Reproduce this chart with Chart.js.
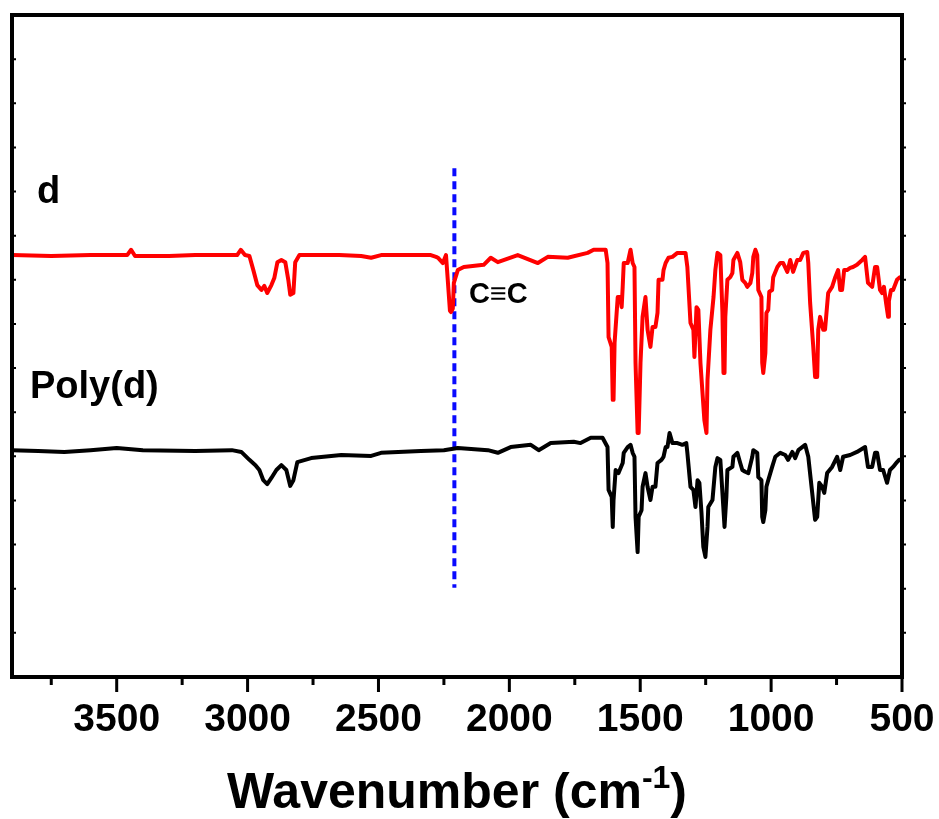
<!DOCTYPE html>
<html>
<head>
<meta charset="utf-8">
<script src="https://cdn.jsdelivr.net/npm/chart.js@4.4.1/dist/chart.umd.min.js"></script>
<style>
  html, body { margin: 0; padding: 0; background: #fff; }
  canvas { display: block; }
</style>
</head>
<body>
<canvas id="ftirChart" width="939" height="819"></canvas>
<script>
// FTIR spectra: monomer d (red) and Poly(d) (black), offset transmittance units
const redWavenumbers = [3900, 3750, 3600, 3460, 3445, 3430, 3300, 3200, 3040, 3026, 3010, 2993, 2978, 2963, 2947, 2936, 2925, 2909, 2898, 2886, 2871, 2856, 2844, 2837, 2825, 2818, 2802, 2650, 2566, 2528, 2490, 2300, 2280, 2273, 2254, 2242, 2227, 2223, 2216, 2212, 2197, 2174, 2098, 2071, 2044, 1968, 1891, 1853, 1777, 1701, 1678, 1632, 1625, 1621, 1609, 1605, 1602, 1598, 1586, 1575, 1571, 1567, 1563, 1548, 1537, 1529, 1522, 1518, 1510, 1506, 1499, 1491, 1480, 1472, 1461, 1453, 1442, 1434, 1430, 1415, 1411, 1403, 1392, 1377, 1358, 1327, 1320, 1308, 1297, 1293, 1285, 1278, 1270, 1255, 1247, 1243, 1232, 1220, 1213, 1205, 1194, 1186, 1182, 1178, 1175, 1167, 1156, 1148, 1144, 1129, 1118, 1110, 1099, 1091, 1079, 1072, 1068, 1060, 1053, 1049, 1037, 1034, 1030, 1022, 1018, 1011, 1007, 996, 992, 976, 965, 954, 938, 927, 916, 900, 889, 877, 862, 858, 851, 839, 832, 824, 820, 813, 801, 794, 782, 767, 755, 744, 736, 729, 721, 710, 698, 687, 672, 652, 641, 630, 614, 603, 595, 584, 576, 569, 561, 553, 550, 542, 534, 519, 508, 500];
const redValues = [9.56, 9.54, 9.56, 9.56, 9.68, 9.54, 9.54, 9.56, 9.56, 9.68, 9.56, 9.54, 9.22, 8.88, 8.77, 8.86, 8.70, 8.88, 9.04, 9.40, 9.45, 9.40, 8.98, 8.66, 8.70, 9.40, 9.56, 9.56, 9.54, 9.50, 9.56, 9.56, 9.52, 9.50, 9.38, 9.56, 8.30, 8.27, 8.35, 8.93, 9.22, 9.29, 9.34, 9.50, 9.40, 9.56, 9.38, 9.52, 9.50, 9.61, 9.68, 9.68, 9.38, 7.70, 7.48, 6.28, 6.28, 7.57, 8.61, 8.61, 8.38, 8.84, 9.38, 9.38, 9.68, 9.38, 9.29, 7.12, 5.53, 5.53, 7.12, 8.16, 8.61, 7.87, 7.48, 7.93, 7.93, 8.25, 9.00, 9.00, 9.22, 9.38, 9.50, 9.52, 9.61, 9.61, 9.29, 8.02, 7.87, 7.25, 8.38, 8.32, 7.12, 5.82, 5.53, 6.73, 7.87, 8.61, 9.22, 9.61, 9.56, 8.25, 6.89, 6.89, 8.16, 9.00, 9.06, 9.15, 9.45, 9.61, 9.40, 9.00, 8.93, 8.84, 8.93, 9.15, 9.52, 9.68, 9.56, 8.77, 8.61, 7.12, 6.89, 7.34, 8.25, 8.32, 8.73, 8.77, 9.06, 9.29, 9.38, 9.38, 9.18, 9.45, 9.18, 9.45, 9.45, 9.61, 9.63, 9.38, 8.48, 7.48, 6.80, 6.80, 7.87, 8.16, 7.87, 7.87, 8.70, 8.84, 9.06, 9.22, 8.77, 8.77, 9.22, 9.22, 9.27, 9.29, 9.34, 9.45, 9.52, 8.93, 8.84, 9.29, 9.29, 8.77, 8.70, 8.84, 8.48, 8.16, 8.52, 8.77, 8.77, 9.00, 9.06, 9.06];

const blackWavenumbers = [3900, 3800, 3700, 3600, 3500, 3400, 3200, 3060, 3024, 2993, 2970, 2955, 2940, 2925, 2909, 2890, 2871, 2852, 2837, 2825, 2810, 2757, 2642, 2528, 2490, 2338, 2250, 2197, 2082, 2044, 1995, 1918, 1888, 1842, 1754, 1728, 1689, 1644, 1625, 1621, 1609, 1605, 1602, 1594, 1583, 1567, 1563, 1548, 1537, 1529, 1522, 1518, 1510, 1506, 1495, 1491, 1480, 1472, 1461, 1453, 1442, 1434, 1419, 1411, 1403, 1396, 1388, 1377, 1358, 1339, 1324, 1320, 1308, 1297, 1289, 1281, 1274, 1266, 1259, 1251, 1243, 1240, 1224, 1213, 1205, 1194, 1186, 1178, 1171, 1167, 1148, 1144, 1129, 1118, 1110, 1099, 1087, 1072, 1068, 1053, 1049, 1037, 1034, 1030, 1022, 1018, 1011, 996, 984, 965, 946, 935, 919, 908, 896, 870, 858, 843, 832, 824, 816, 805, 797, 786, 767, 748, 736, 725, 698, 672, 641, 630, 614, 603, 595, 584, 572, 557, 546, 534, 519, 511, 500];
const blackValues = [5.14, 5.12, 5.10, 5.14, 5.19, 5.14, 5.12, 5.14, 5.10, 4.92, 4.80, 4.69, 4.46, 4.37, 4.51, 4.69, 4.80, 4.69, 4.33, 4.46, 4.87, 4.96, 5.03, 5.01, 5.08, 5.12, 5.14, 5.19, 5.14, 5.08, 5.21, 5.26, 5.14, 5.30, 5.33, 5.30, 5.42, 5.42, 5.21, 4.24, 4.08, 3.40, 4.01, 4.69, 4.62, 4.85, 5.08, 5.21, 5.26, 5.08, 4.99, 3.63, 2.83, 3.63, 3.78, 4.31, 4.62, 4.31, 4.01, 4.31, 4.31, 4.85, 4.92, 4.99, 5.21, 5.21, 5.53, 5.30, 5.30, 5.26, 5.30, 5.08, 4.31, 4.24, 3.85, 4.46, 4.40, 3.72, 2.95, 2.72, 3.40, 3.85, 4.01, 4.76, 4.96, 4.92, 4.17, 3.40, 4.08, 4.69, 4.76, 4.99, 5.08, 4.85, 4.69, 4.65, 4.62, 4.99, 5.14, 5.08, 4.53, 4.46, 3.63, 3.51, 3.78, 4.31, 4.46, 4.76, 4.99, 5.08, 5.03, 4.92, 5.10, 4.96, 5.14, 5.26, 4.99, 4.17, 3.56, 3.63, 4.40, 4.31, 4.17, 4.62, 4.76, 4.99, 4.69, 4.99, 5.03, 5.10, 5.21, 4.76, 4.76, 5.08, 5.08, 4.69, 4.69, 4.40, 4.69, 4.76, 4.87, 4.92, 4.92];

// C≡C marker line
const alkyneWavenumber = 2210;
const alkyneRange = [2.02, 11.53];

// axis ticks
const xMajorTicks = [3500, 3000, 2500, 2000, 1500, 1000, 500];
const xMinorTicks = [3750, 3250, 2750, 2250, 1750, 1250, 750];
const yTicks = [1, 2, 3, 4, 5, 6, 7, 8, 9, 10, 11, 12, 13, 14];

const toPoints = (xs, ys) => xs.map((x, i) => ({ x: x, y: ys[i] }));

const fontFamily = '"Liberation Sans", Arial, Helvetica, sans-serif';

const framePlugin = {
    id: 'frame',
    afterDraw(chart) {
        const ctx = chart.ctx;
        const area = chart.chartArea;
        const xs = chart.scales.x;
        const ys = chart.scales.y;
        ctx.save();
        ctx.strokeStyle = '#000';
        ctx.lineWidth = 4;
        ctx.strokeRect(area.left, area.top, area.right - area.left, area.bottom - area.top);

        // x ticks (outward)
        ctx.lineWidth = 3;
        ctx.beginPath();
        xMajorTicks.forEach(v => {
            const px = xs.getPixelForValue(v);
            ctx.moveTo(px, area.bottom);
            ctx.lineTo(px, area.bottom + 15);
        });
        xMinorTicks.forEach(v => {
            const px = xs.getPixelForValue(v);
            ctx.moveTo(px, area.bottom);
            ctx.lineTo(px, area.bottom + 8);
        });
        ctx.stroke();

        // y ticks (small, inside)
        ctx.lineWidth = 2;
        ctx.beginPath();
        yTicks.forEach(v => {
            const py = ys.getPixelForValue(v);
            ctx.moveTo(area.left, py);
            ctx.lineTo(area.left + 4, py);
            ctx.moveTo(area.right, py);
            ctx.lineTo(area.right + 4, py);
        });
        ctx.stroke();

        // sample labels
        ctx.fillStyle = '#000';
        ctx.textBaseline = 'alphabetic';
        ctx.textAlign = 'left';
        ctx.font = 'bold 38px ' + fontFamily;
        ctx.fillText('d', area.left + 25, 203);
        ctx.fillText('Poly(d)', area.left + 18, 398);
        ctx.font = 'bold 29px ' + fontFamily;
        ctx.fillText('C\u2261C', 469, 303);

        // axis title with superscript
        const main = 'Wavenumber (cm';
        const sup = '-1';
        const close = ')';
        ctx.font = 'bold 50px ' + fontFamily;
        const wMain = ctx.measureText(main).width;
        const wClose = ctx.measureText(close).width;
        ctx.font = 'bold 32px ' + fontFamily;
        const wSup = ctx.measureText(sup).width;
        const total = wMain + wSup + wClose;
        let x0 = (area.left + area.right) / 2 - total / 2;
        const base = 808;
        ctx.font = 'bold 50px ' + fontFamily;
        ctx.fillText(main, x0, base);
        ctx.font = 'bold 32px ' + fontFamily;
        ctx.fillText(sup, x0 + wMain, base - 20);
        ctx.font = 'bold 50px ' + fontFamily;
        ctx.fillText(close, x0 + wMain + wSup, base);
        ctx.restore();
    }
};

const ctx = document.getElementById('ftirChart').getContext('2d');

new Chart(ctx, {
    type: 'line',
    data: {
        datasets: [
            {
                label: 'd',
                data: toPoints(redWavenumbers, redValues),
                borderColor: '#ff0000',
                borderWidth: 4,
                pointRadius: 0,
                tension: 0,
                borderJoinStyle: 'round'
            },
            {
                label: 'Poly(d)',
                data: toPoints(blackWavenumbers, blackValues),
                borderColor: '#000000',
                borderWidth: 4,
                pointRadius: 0,
                tension: 0,
                borderJoinStyle: 'round'
            },
            {
                label: 'C≡C',
                data: [
                    { x: alkyneWavenumber, y: alkyneRange[1] },
                    { x: alkyneWavenumber, y: alkyneRange[0] }
                ],
                borderColor: '#0a0aff',
                borderWidth: 4,
                borderDash: [8, 5],
                pointRadius: 0
            }
        ]
    },
    options: {
        responsive: false,
        animation: false,
        layout: {
            padding: { left: 12, right: 37, top: 15, bottom: 0 }
        },
        plugins: {
            legend: { display: false },
            tooltip: { enabled: false }
        },
        scales: {
            x: {
                type: 'linear',
                reverse: true,
                min: 500,
                max: 3900,
                afterBuildTicks: s => { s.ticks = xMajorTicks.map(v => ({ value: v })); },
                afterFit: s => { s.height = 142; s.paddingLeft = 0; s.paddingRight = 0; },
                grid: { display: false, drawTicks: false },
                border: { display: false },
                ticks: {
                    color: '#000',
                    padding: 20,
                    maxRotation: 0,
                    autoSkip: false,
                    font: { family: fontFamily, size: 39, weight: 'bold' },
                    callback: v => String(v)
                }
            },
            y: {
                display: false,
                min: 0,
                max: 15
            }
        }
    },
    plugins: [framePlugin]
});
</script>
</body>
</html>
